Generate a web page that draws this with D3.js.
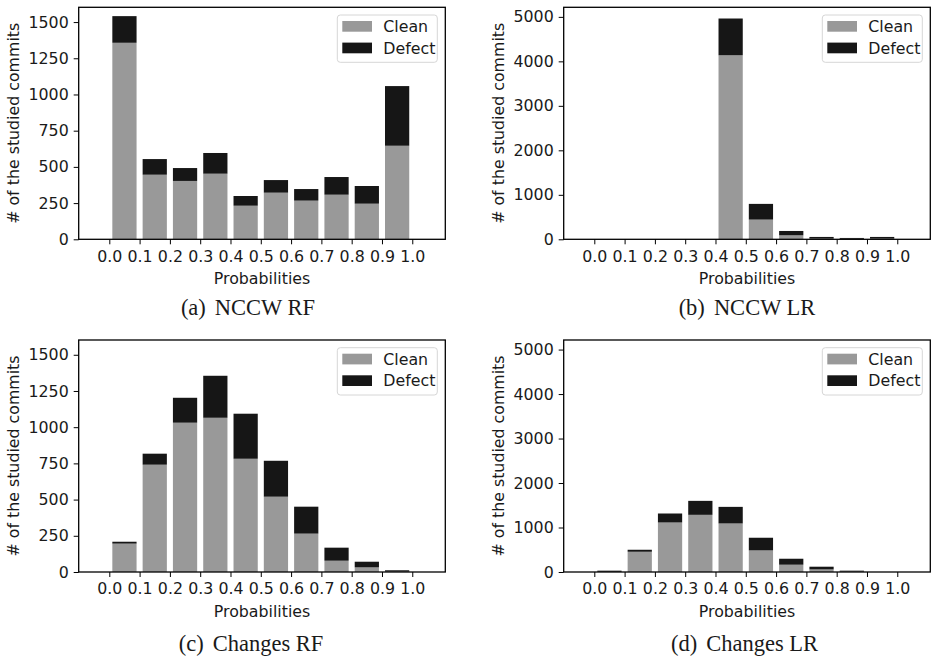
<!DOCTYPE html>
<html>
<head>
<meta charset="utf-8">
<script src="https://cdn.jsdelivr.net/npm/d3@7"></script>
<style>
  html, body { margin: 0; padding: 0; background: #fff; }
  svg { display: block; }
  text { font-family: "DejaVu Sans", sans-serif; fill: #1a1a1a; }
  .cap { font-family: "Liberation Serif", "Times New Roman", serif; }
</style>
</head>
<body>
<svg id="chart" width="932" height="659"></svg>
<script>
// ---- data ----
const probTicks = ["0.0","0.1","0.2","0.3","0.4","0.5","0.6","0.7","0.8","0.9","1.0"];
const binCenters = [0.05,0.15,0.25,0.35,0.45,0.55,0.65,0.75,0.85,0.95];
const seriesNames = ["Clean","Defect"];

const nccwRfClean   = [1357, 446, 403, 453, 232, 322, 267, 308, 246, 646];
const nccwRfDefect  = [ 184, 108,  89, 143,  67,  87,  80, 122, 122, 412];

const nccwLrClean   = [0, 0, 0, 0, 4137, 443, 90, 15, 10, 15];
const nccwLrDefect  = [0, 0, 0, 0,  826, 353, 97, 38, 20, 38];

const changesRfClean  = [196, 741, 1031, 1065, 782, 520, 265, 78, 32, 3];
const changesRfDefect = [ 13,  76,  172,  290, 311, 248, 186, 90, 39, 9];

const changesLrClean  = [ 5, 455, 1113, 1285, 1091, 486, 164, 58, 10, 0];
const changesLrDefect = [25,  45,  202,  314,  373, 284, 134, 61, 20, 0];

const rfTicks = [0, 250, 500, 750, 1000, 1250, 1500];
const lrTicks = [0, 1000, 2000, 3000, 4000, 5000];

const panels = [
  { tag: "(a)", title: "NCCW RF",    clean: nccwRfClean,    defect: nccwRfDefect,    yTicks: rfTicks, yMax: 1602 },
  { tag: "(b)", title: "NCCW LR",    clean: nccwLrClean,    defect: nccwLrDefect,    yTicks: lrTicks, yMax: 5215 },
  { tag: "(c)", title: "Changes RF", clean: changesRfClean, defect: changesRfDefect, yTicks: rfTicks, yMax: 1602 },
  { tag: "(d)", title: "Changes LR", clean: changesLrClean, defect: changesLrDefect, yTicks: lrTicks, yMax: 5215 }
];

// ---- layout ----
const layout = [
  { left: 78.7,  top: 7.3, capX: 248,   capY: 314.5 },
  { left: 563.7, top: 7.3, capX: 747,   capY: 314.5 },
  { left: 78.7,  top: 340, capX: 251,   capY: 651 },
  { left: 563.7, top: 340, capX: 744.5, capY: 651 }
];
const W = 366.6, H = 232;
const colors = { Clean: "#999999", Defect: "#161616" };
const fontSize = "15.8px";

const svg = d3.select("#chart");

panels.forEach((p, i) => {
  const L = layout[i];
  const g = svg.append("g").attr("transform", `translate(${L.left},${L.top})`);

  const x = d3.scaleLinear().domain([-0.101, 1.109]).range([0, W]);
  const y = d3.scaleLinear().domain([0, p.yMax]).range([H, 0]);
  const bw = x(0.08) - x(0);

  const rows = binCenters.map((c, k) => ({ c, Clean: p.clean[k], Defect: p.defect[k] }));
  const stacked = d3.stack().keys(seriesNames)(rows);

  stacked.forEach(layer => {
    g.append("g").selectAll("rect")
      .data(layer)
      .join("rect")
      .attr("x", d => x(d.data.c) - bw / 2)
      .attr("width", bw)
      .attr("y", d => y(d[1]))
      .attr("height", d => Math.max(0, y(d[0]) - y(d[1])))
      .attr("fill", colors[layer.key]);
  });

  // x axis
  const xAxis = d3.axisBottom(x)
    .tickValues(probTicks.map(Number))
    .tickFormat((d, k) => probTicks[k])
    .tickSize(5).tickSizeOuter(0).tickPadding(6);
  const gx = g.append("g").attr("transform", `translate(0,${H})`).call(xAxis);
  gx.select(".domain").remove();
  gx.selectAll("line").attr("stroke", "#000").attr("stroke-width", 1);
  gx.selectAll("text").style("font-size", fontSize).attr("fill", "#1a1a1a");

  // y axis
  const yAxis = d3.axisLeft(y)
    .tickValues(p.yTicks)
    .tickFormat(d3.format("d"))
    .tickSize(5).tickSizeOuter(0).tickPadding(5);
  const gy = g.append("g").call(yAxis);
  gy.select(".domain").remove();
  gy.selectAll("line").attr("stroke", "#000").attr("stroke-width", 1);
  gy.selectAll("text").style("font-size", fontSize).attr("fill", "#1a1a1a");

  // frame
  g.append("rect").attr("x", 0).attr("y", 0).attr("width", W).attr("height", H)
    .attr("fill", "none").attr("stroke", "#000").attr("stroke-width", 1.3);

  // axis labels
  g.append("text")
    .attr("x", W / 2).attr("y", H + 44.7)
    .attr("text-anchor", "middle")
    .style("font-size", fontSize)
    .text("Probabilities");
  g.append("text")
    .attr("transform", `translate(-60,${H / 2}) rotate(-90)`)
    .attr("text-anchor", "middle")
    .style("font-size", fontSize)
    .text("# of the studied commits");

  // legend
  const lg = g.append("g").attr("transform", `translate(${W - 8 - 100},7.7)`);
  lg.append("rect").attr("width", 100).attr("height", 47.3).attr("rx", 3)
    .attr("fill", "#fff").attr("stroke", "#d6d6d6").attr("stroke-width", 1);
  seriesNames.forEach((s, k) => {
    lg.append("rect").attr("x", 5).attr("y", 6 + k * 21.6)
      .attr("width", 29.7).attr("height", 10.7).attr("fill", colors[s]);
    lg.append("text").attr("x", 46).attr("y", 11.5 + k * 21.6).attr("dy", "0.35em")
      .style("font-size", fontSize).text(s);
  });

  // caption
  const cap = svg.append("text").attr("class", "cap")
    .attr("x", L.capX).attr("y", L.capY)
    .attr("text-anchor", "middle")
    .style("font-size", "22.5px").attr("fill", "#111");
  cap.append("tspan").text(p.tag);
  cap.append("tspan").attr("dx", 9).text(p.title);
});
</script>
</body>
</html>
